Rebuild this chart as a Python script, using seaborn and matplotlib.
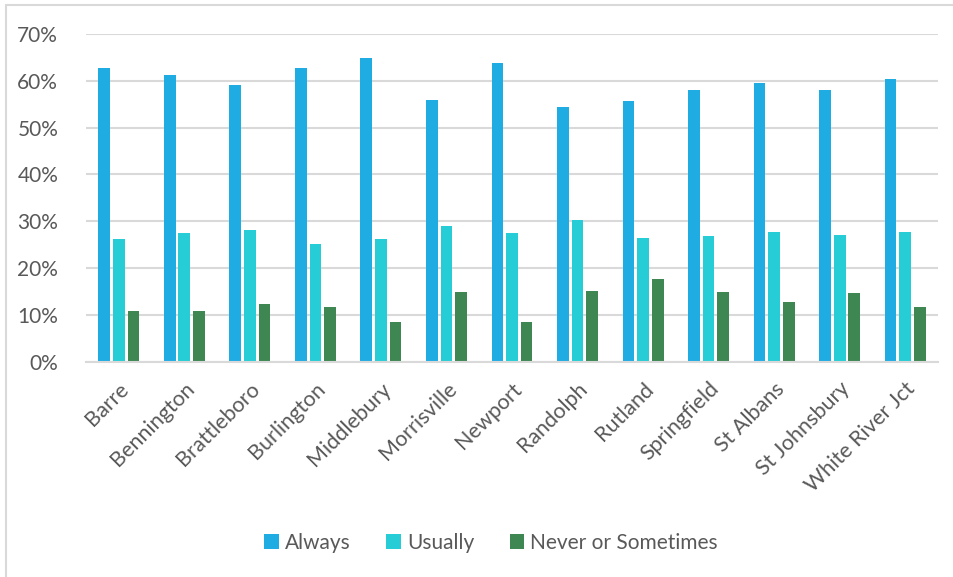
import matplotlib
matplotlib.use("Agg")
import matplotlib.pyplot as plt
import matplotlib.patches as mpatches
from matplotlib.ticker import FuncFormatter, MultipleLocator
import seaborn as sns
import pandas as pd

sites = ["Barre", "Bennington", "Brattleboro", "Burlington", "Middlebury", "Morrisville",
         "Newport", "Randolph", "Rutland", "Springfield", "St Albans", "St Johnsbury",
         "White River Jct"]
always = [62.6, 61.2, 59.0, 62.7, 64.9, 55.8, 63.7, 54.3, 55.6, 58.0, 59.5, 58.0, 60.3]
usually = [26.2, 27.6, 28.2, 25.2, 26.3, 29.1, 27.4, 30.3, 26.5, 26.8, 27.7, 27.1, 27.8]
never = [10.9, 10.9, 12.4, 11.8, 8.5, 14.9, 8.6, 15.2, 17.6, 14.9, 12.7, 14.7, 11.7]
series = ["Always", "Usually", "Never or Sometimes"]
colors = ["#1FACE3", "#27CDD6", "#3E8753"]

rows = []
for s, vals in zip(series, [always, usually, never]):
    for site, v in zip(sites, vals):
        rows.append({"site": site, "series": s, "value": v})
df = pd.DataFrame(rows)

sns.set_theme(style="white")
plt.rcParams["font.family"] = ["Lato", "DejaVu Sans"]
text_color = "#595959"

fig = plt.figure(figsize=(9.54, 5.77), dpi=100)
ax = fig.add_axes([86/954, 1 - 362/577, (938-86)/954, (362-33.7)/577])

sns.barplot(data=df, x="site", y="value", hue="series", palette=colors,
            order=sites, hue_order=series, width=0.67, gap=0.2, ax=ax,
            saturation=1, edgecolor="none", legend=True, errorbar=None)

ax.set_ylim(0, 70)
ax.yaxis.set_major_locator(MultipleLocator(10))
ax.yaxis.set_major_formatter(FuncFormatter(lambda v, p: f"{int(v)}%"))
ax.grid(axis="y", color="#D9D9D9", linewidth=1.5)
ax.set_axisbelow(True)
for sp in ["top", "right", "left"]:
    ax.spines[sp].set_visible(False)
ax.spines["bottom"].set_color("#D9D9D9")
ax.spines["bottom"].set_linewidth(1.5)
ax.set_xlabel("")
ax.set_ylabel("")
ax.tick_params(axis="both", length=0, colors=text_color)
ax.tick_params(axis="y", pad=20, labelsize=15)
ax.tick_params(axis="x", pad=12, labelsize=15.5)
for lbl in ax.get_xticklabels():
    lbl.set_rotation(45)
    lbl.set_ha("right")
    lbl.set_rotation_mode("anchor")
ax.set_xlim(-0.5, len(sites) - 0.5)

handles, labels = ax.get_legend_handles_labels()
ax.legend_.remove()
fig.legend(handles, labels, loc="center", bbox_to_anchor=(491/954, 1 - 543/577),
           ncol=3, frameon=False, fontsize=15, labelcolor=text_color,
           handlelength=0.7, handleheight=0.7, handletextpad=0.3, columnspacing=1.7)

fig.patches.append(mpatches.Rectangle((6/954, -0.01), 960/954, 1 - 5/577 + 0.01,
                                      transform=fig.transFigure, fill=False,
                                      edgecolor="#D9D9D9", linewidth=1.5))

fig.savefig("out.png", dpi=100)
